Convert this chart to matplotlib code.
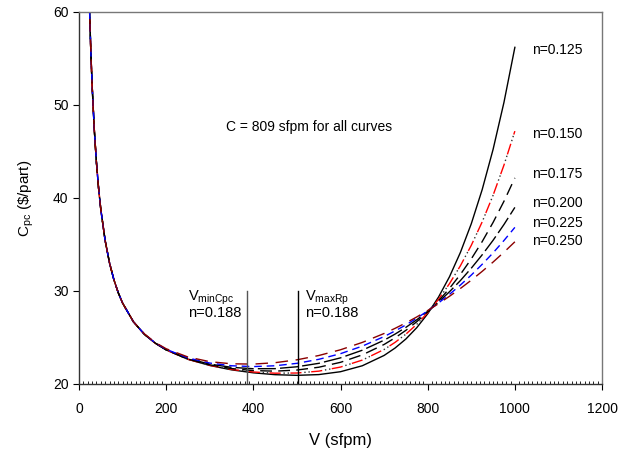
import matplotlib
matplotlib.use("Agg")
import matplotlib.pyplot as plt
from matplotlib.ticker import MultipleLocator

plt.rcParams['font.family'] = ['Liberation Sans', 'DejaVu Sans']
plt.rcParams['mathtext.fontset'] = 'custom'
plt.rcParams['mathtext.rm'] = 'Liberation Sans'
plt.rcParams['mathtext.it'] = 'Liberation Sans'

# cutting speed (sfpm), shared by all curves
V = [22, 24, 27, 30, 35, 40, 45, 50, 60, 70, 80, 90, 100, 125,
     150, 175, 200, 250, 300, 350, 400, 450, 500, 550, 600, 650, 700,
     725, 750, 775, 800, 825, 850, 875, 900, 925, 950, 975, 1000]

# left branch is common to every curve
left = [64.44, 60.62, 55.95, 52.22, 47.42, 43.82, 41.02, 38.78, 35.42, 33.02,
        31.22, 29.82, 28.70, 26.68]

cpc_0125 = left + [25.34, 24.38, 23.66, 22.65, 21.99, 21.52, 21.20, 21.00,
                   20.93, 21.01, 21.32, 21.96, 23.07,
                   23.86, 24.84, 26.06, 27.55, 29.36, 31.53, 34.14, 37.23,
                   40.90, 45.22, 50.29, 56.20]
cpc_0150 = left + [25.34, 24.38, 23.66, 22.66, 22.01, 21.57, 21.29, 21.16,
                   21.18, 21.38, 21.82, 22.57, 23.71,
                   24.47, 25.36, 26.42, 27.67, 29.11, 30.79, 32.71, 34.91,
                   37.43, 40.29, 43.54, 47.19]
cpc_0175 = left + [25.34, 24.39, 23.67, 22.68, 22.06, 21.66, 21.44, 21.38,
                   21.50, 21.80, 22.33, 23.13, 24.25,
                   24.96, 25.77, 26.70, 27.75, 28.94, 30.28, 31.78, 33.45,
                   35.31, 37.37, 39.65, 42.16]
cpc_0200 = left + [25.35, 24.40, 23.69, 22.73, 22.14, 21.79, 21.64, 21.65,
                   21.85, 22.22, 22.81, 23.63, 24.71,
                   25.36, 26.09, 26.91, 27.81, 28.81, 29.92, 31.12, 32.45,
                   33.89, 35.45, 37.15, 38.99]
cpc_0225 = left + [25.36, 24.42, 23.73, 22.80, 22.25, 21.96, 21.87, 21.96,
                   22.22, 22.65, 23.26, 24.07, 25.10,
                   25.70, 26.35, 27.08, 27.86, 28.72, 29.64, 30.64, 31.71,
                   32.87, 34.10, 35.43, 36.84]
cpc_0250 = left + [25.39, 24.46, 23.79, 22.90, 22.40, 22.17, 22.14, 22.29,
                   22.60, 23.06, 23.68, 24.47, 25.43,
                   25.98, 26.57, 27.21, 27.90, 28.64, 29.43, 30.27, 31.16,
                   32.11, 33.11, 34.17, 35.29]

curves = [cpc_0125, cpc_0150, cpc_0175, cpc_0200, cpc_0225, cpc_0250]
n_labels = ["n=0.125", "n=0.150", "n=0.175", "n=0.200", "n=0.225", "n=0.250"]
label_y = [55.9, 46.9, 42.6, 39.5, 37.3, 35.4]

v_min_cpc = 386
v_max_rp = 502

colors = ['black', '#ff0000', 'black', 'black', '#0000ff', '#8b0000']
styles = ['-', (0, (8, 7)), (0, (8.5, 4.5)), (0, (13, 3)), (0, (5.5, 3.5)),
          (0, (9, 5.5))]

fig = plt.figure(figsize=(6.34, 4.49), dpi=100)
ax = fig.add_axes([0.1246, 0.1448, 0.825, 0.8285])

for i, (cpc, col, ls) in enumerate(zip(curves, colors, styles)):
    ax.plot(V, cpc, color=col, lw=1.0, linestyle=ls)
    if i == 1:
        # the two dots of the dash-dot-dot pattern are dark
        ax.plot(V, cpc, color='#333333', lw=1.0, linestyle=(5, (1, 2, 1, 11)))

ax.plot([v_min_cpc, v_min_cpc], [20, 30], color='#555555', lw=1.0)
ax.plot([v_max_rp, v_max_rp], [20, 30], color='black', lw=1.0)

ax.text(250, 29.25, r"V$_{\mathrm{minCpc}}$", fontsize=10.5, va='center')
ax.text(250, 27.6, "n=0.188", fontsize=10.5, va='center')
ax.text(519, 29.25, r"V$_{\mathrm{maxRp}}$", fontsize=10.5, va='center')
ax.text(519, 27.6, "n=0.188", fontsize=10.5, va='center')

ax.text(718, 47.6, "C = 809 sfpm for all curves", fontsize=10,
        va='center', ha='right')

for lab, yy in zip(n_labels, label_y):
    ax.text(1039, yy, lab, fontsize=10, va='center')

ax.set_xlim(0, 1200)
ax.set_ylim(20, 60)
ax.xaxis.set_major_locator(MultipleLocator(200))
ax.xaxis.set_minor_locator(MultipleLocator(10))
ax.yaxis.set_major_locator(MultipleLocator(10))
ax.tick_params(axis='both', which='major', direction='out', length=4,
               labelsize=10, width=0.8)
ax.tick_params(axis='x', which='major', pad=9)
ax.tick_params(axis='x', which='minor', direction='in', length=2.5, width=0.6)

for side in ['left', 'bottom']:
    ax.spines[side].set_color('#333333')
for side in ['top', 'right']:
    ax.spines[side].set_color('#777777')
for sp in ax.spines.values():
    sp.set_linewidth(1.0)

ax.set_xlabel("V (sfpm)", fontsize=12, labelpad=12)
ax.set_ylabel(r"C$_{\mathrm{pc}}$ (\$/part)", fontsize=11, labelpad=12)

fig.savefig("out.png", dpi=100)
